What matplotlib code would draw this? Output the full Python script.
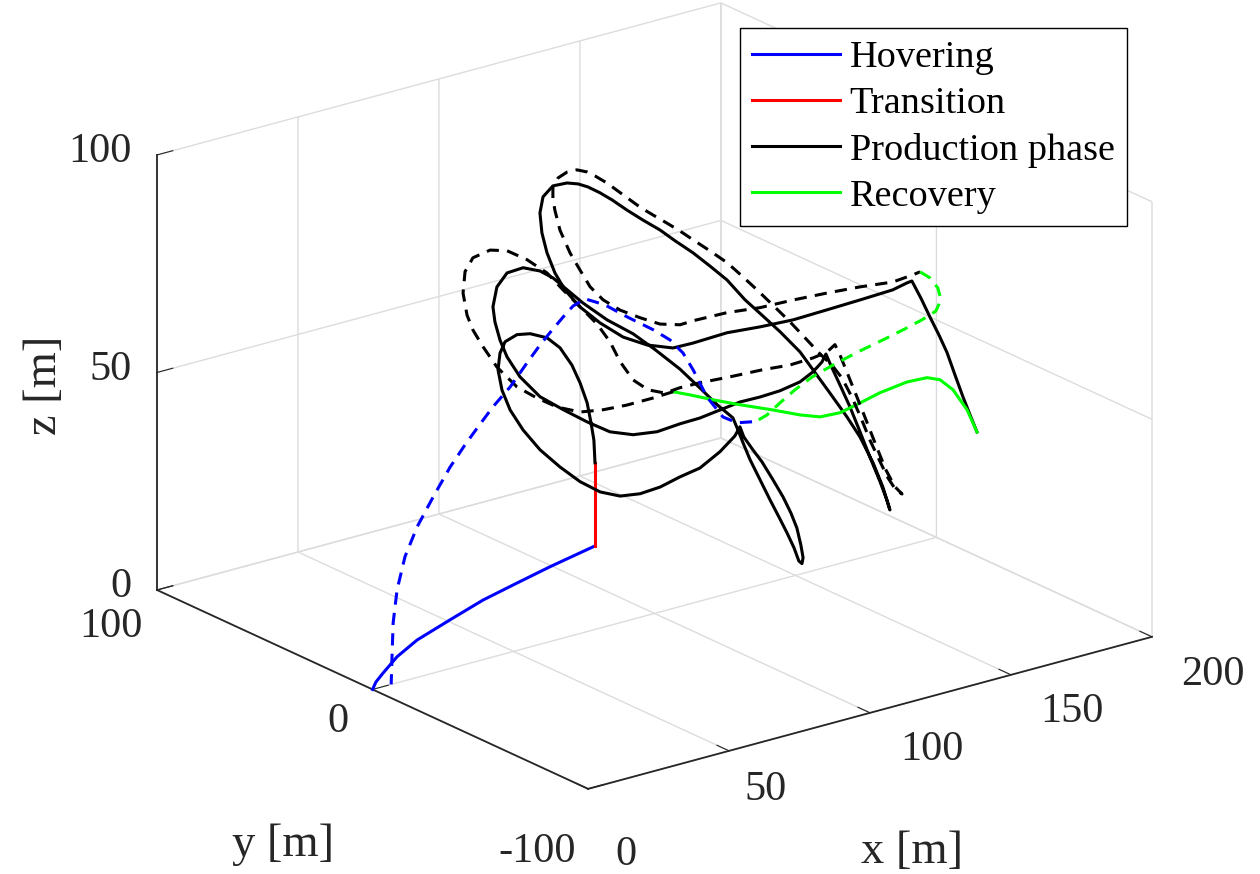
import matplotlib
matplotlib.use('Agg')
import matplotlib.pyplot as plt
from mpl_toolkits.mplot3d import proj3d

plt.rcParams.update({
    'font.family': ['Liberation Serif', 'DejaVu Serif'],
    'font.size': 30.5,
    'axes.unicode_minus': False,
    'grid.color': '#dcdcdc',
    'grid.linewidth': 1.0,
})

# ---- first pass (solid) ----
hover_x = [0, 1.2, 3.7, 8.7, 15.8, 27.5, 39.2, 51.2, 62.9, 78.9]
hover_y = [0] * 10
hover_z = [0, 1.5, 3.1, 6.0, 8.6, 11.2, 13.7, 15.5, 17.2, 19.2]

trans_x = [78.9, 78.9]
trans_y = [0, 0]
trans_z = [19.2, 38.3]

prod_pts = [
    # loop A
    (78.9, 0, 38.3), (78.5, 0, 43.6), (77.5, 0, 47.7), (76.1, 0, 52.6), (73.6, 0, 57.6),
    (70.7, 0, 62.2), (66.5, 0, 66.9), (61.9, 0, 70.0), (55.9, 0, 72.0), (51.2, 0, 72.6),
    (47.0, 0, 71.7), (45.2, 0, 69.4), (44.5, 0, 65.7), (45.9, 0, 60.8), (48.8, 0, 55.7),
    (53.4, 0, 50.3), (59.4, 0, 44.7), (66.5, 0, 39.5), (73.6, 0, 34.9), (80.7, 0, 31.3),
    (87.8, 0, 29.1), (94.9, 0, 28.4), (102.0, 0, 28.7), (109.0, 0, 29.8), (116.1, 0, 30.6),
    (123.2, 0, 33.1), (128.5, 0, 35.8), (130.3, 0, 37.6),
    # dive 1
    (131.7, 0, 35.0), (134.9, 0, 31.5), (138.1, 0, 28.2), (142.0, 0, 23.4), (145.6, 0, 18.8),
    (148.4, 0, 14.6), (150.5, 0, 10.8), (151.9, 0, 6.7), (152.7, 0, 3.6), (152.3, 0, 2.3),
    (151.2, 0, 3.1), (149.5, 0, 6.4), (147.0, 0, 10.3), (144.1, 0, 14.5), (141.0, 0, 18.9),
    (137.4, 0, 24.2), (133.9, 0, 29.4), (131.7, 0, 33.2), (129.6, 0, 37.0), (127.8, 0, 40.1),
    # loop B
    (122.2, 0, 44.1), (116.1, 0, 49.0), (109.0, 0, 54.6), (100.2, 0, 60.6), (92.4, 0, 65.6),
    (83.2, 0, 70.4), (74.6, 0, 75.8), (69.0, 0, 79.8), (64.0, 0, 83.4), (59.4, 0, 85.8),
    (53.4, 0, 87.6), (47.7, 0, 87.4), (44.1, 0, 84.8), (42.7, 0, 80.5), (43.4, 0, 76.9),
    (45.2, 0, 72.4), (47.7, 0, 68.1), (52.3, 0, 62.7), (59.4, 0, 56.9), (67.6, 0, 52.5),
    (76.1, 0, 48.2), (84.2, 0, 44.5), (92.4, 0, 42.4), (100.9, 0, 41.6), (109.0, 0, 42.0),
    (116.1, 0, 42.1), (123.2, 0, 42.7), (130.3, 0, 43.3), (137.4, 0, 43.2), (144.5, 0, 43.4),
    (151.6, 0, 44.2), (156.2, 0, 45.7), (159.4, 0, 47.4), (160.8, 0, 49.0),
    # dive 2
    (162.6, 0, 46.0), (165.8, 0, 41.0), (169.3, 0, 35.4), (172.9, 0, 29.0), (176.4, 0, 22.6),
    (180.0, 0, 16.3), (182.4, 0, 11.7), (183.5, 0, 9.2),
    (181.0, 0, 14.9), (177.5, 0, 21.1), (172.9, 0, 27.8), (168.3, 0, 33.2), (162.2, 0, 39.8),
    (156.2, 0, 46.2), (151.6, 0, 51.1), (146.8, 3, 55.9), (143.0, 6, 59.5), (139.0, 9, 63.2),
    (134.9, 12, 67.8), (131.1, 15, 71.0), (127.4, 18, 74.0), (123.3, 21, 76.8), (120.3, 24, 79.1),
    (115.8, 26, 81.7), (111.6, 28, 84.3), (107.9, 30, 86.8),
    # loop C
    (103.6, 30, 89.2), (99.3, 30, 91.3), (95.8, 30, 92.6), (91.9, 30, 93.5), (86.9, 30, 93.7),
    (83.4, 30, 91.8), (82.3, 30, 88.3), (83.0, 30, 83.6), (84.8, 30, 78.7), (87.6, 30, 73.6),
    (91.2, 30, 69.0), (96.5, 30, 64.2), (103.6, 30, 59.3), (111.8, 30, 54.6), (120.3, 30, 51.3),
    (129.5, 30, 49.0),
    (132.8, 25, 50.7), (139.5, 18, 53.5), (145.1, 10, 55.7), (151.4, 3, 57.8), (157.3, -5, 60.9),
    (164.5, -11, 63.3), (172.3, -16, 65.4), (175.0, -19, 67.2), (176.0, -20, 67.7),
    # dive 3
    (176.9, -23, 64.3), (177.8, -26, 60.5), (178.7, -29, 56.9), (179.3, -32, 53.4),
    (179.8, -35, 48.9), (181.1, -37, 44.1), (182.1, -39, 40.2), (183.8, -40, 36.2),
]

rec_pts = [
    (183.8, -40, 36.2), (181.8, -38, 41.2), (179.1, -35, 45.6), (176.8, -32, 47.6),
    (174.5, -29, 47.8), (170.4, -25, 46.6), (164.7, -20, 44.0), (159.9, -17, 41.8),
    (155.1, -14, 39.7), (150.3, -11, 38.9), (145.5, -8, 39.5), (137.4, -6, 41.6),
    (127.3, -4, 44.1), (119.2, -2, 46.2), (111.8, -1, 48.4), (106.6, 0, 49.8),
]

# ---- second pass (dashed) ----
prod2_pts = [
    (106.6, 0, 49.8), (99.5, 0, 49.6), (90.2, 0, 49.6), (81.7, 0, 50.0), (73.6, 0, 50.9),
    (65.4, 0, 53.5), (58.3, 0, 56.8), (51.2, 0, 60.6), (44.1, 0, 66.4), (39.2, 0, 71.9),
    (35.6, 0, 76.4), (33.5, 0, 80.2), (32.1, 0, 85.5), (32.8, 0, 90.3), (35.6, 0, 93.0),
    (41.7, 0, 93.7), (47.7, 0, 92.5), (54.8, 0, 89.2), (61.9, 0, 84.9), (67.6, 0, 80.0),
    (73.6, 0, 75.1), (79.6, 0, 70.1), (84.2, 0, 65.2), (87.8, 0, 60.0), (92.4, 0, 55.0),
    (97.7, 0, 51.8), (103.7, 0, 50.0),
    (109.0, 0, 50.3), (116.1, 0, 50.2), (126.8, 0, 49.7), (138.5, 0, 49.3), (148.0, 0, 48.7),
    (156.2, 0, 48.9), (161.2, 0, 49.4), (164.0, 0, 50.6),
    (165.8, 0, 47.9), (168.6, 0, 42.9), (171.8, 0, 37.2), (175.0, 0, 31.4), (178.5, 0, 25.0),
    (182.1, 0, 18.6), (185.3, 0, 14.2), (187.8, 0, 12.1),
    (185.6, 0, 13.4), (182.8, 0, 16.7), (180.0, 0, 20.9), (176.4, 0, 26.5), (173.2, 0, 32.2),
    (170.0, 0, 37.5), (166.5, 0, 42.5), (162.9, 0, 46.1), (158.7, 0, 49.4), (154.1, 0, 53.4),
    (150.4, 3, 57.5), (148.0, 6, 60.2), (143.2, 9, 64.8), (140.2, 12, 67.8), (137.2, 15, 70.7),
    (133.4, 18, 73.4), (129.7, 21, 75.9), (126.6, 23, 78.0), (123.5, 25, 79.9), (120.1, 27, 81.9),
    (117.0, 29, 83.8),
    (111.8, 30, 87.3), (106.1, 30, 91.0), (101.8, 30, 93.4), (99.0, 30, 94.8), (95.4, 30, 95.9),
    (91.9, 30, 96.0), (88.7, 30, 95.2), (86.9, 30, 93.5), (86.9, 30, 90.9), (87.6, 30, 88.0),
    (89.4, 30, 83.1), (93.0, 30, 77.2), (96.5, 30, 72.7), (100.1, 30, 68.2), (104.7, 30, 64.4),
    (110.7, 30, 61.0), (117.8, 30, 58.0), (124.9, 30, 55.3), (132.0, 30, 53.9),
    (134.3, 27, 55.1), (141.0, 20, 57.4), (146.6, 12, 59.4), (152.2, 4, 62.0), (158.1, -4, 64.4),
    (164.5, -11, 66.3), (172.3, -16, 67.2), (177.2, -19, 68.7), (178.9, -20, 69.3),
]

rec2_pts = [
    (178.9, -20, 69.3), (182.4, -20, 67.3), (185.2, -20, 64.5), (186.3, -20, 61.6),
    (184.5, -20, 59.3), (180.4, -19, 57.8), (175.1, -18, 56.4), (169.5, -16, 54.6),
    (162.9, -13, 52.3), (156.4, -10, 49.8), (150.5, -7, 47.1), (146.0, -5, 44.5),
    (142.2, -3, 41.7), (139.1, -1, 39.0), (136.3, 0, 37.9),
]

hover2_x = [134.6, 129.3, 124.3, 118.6, 113.7, 110.1, 105.5, 99.5, 90.2, 82.4, 75.4, 71.1, 67.6, 62.9,
            59.4, 54.8, 48.8, 42.7, 37.4, 32.8, 27.5, 21.5, 15.8, 11.5, 8.7, 7.3, 6.9, 6.6]
hover2_y = [0] * len(hover2_x)
hover2_z = [38.0, 38.7, 40.9, 46.5, 53.6, 58.1, 61.9, 65.3, 69.9, 74.0, 76.6, 75.7, 73.8, 71.0,
            68.8, 65.5, 61.0, 57.5, 53.8, 50.5, 46.3, 40.5, 34.6, 28.5, 21.4, 14.0, 6.3, 0.0]

x_ticks = [0, 50, 100, 150, 200]
y_ticks = [-100, 0, 100]
z_ticks = [0, 50, 100]

BLUE, RED, BLACK, GREEN = '#0000ff', '#ff0000', '#000000', '#00ff00'
TXT = '#262626'
LW = 2.2
DASH = (0, (4, 2.7))
LABEL_SIZE = 33.5   # MATLAB: labels 1.1x, legend 0.9x the axes font
LEGEND_SIZE = 27.5

fig = plt.figure(figsize=(12.6, 8.74), dpi=100)
ax = fig.add_axes([0, 0, 1, 1], projection='3d')
ax.set_proj_type('ortho')
ax.view_init(elev=20.65, azim=-127.4)
ax.set_box_aspect((1, 1, 0.655))

h1, = ax.plot(hover_x, hover_y, hover_z, color=BLUE, lw=LW, label='Hovering')
h2, = ax.plot(trans_x, trans_y, trans_z, color=RED, lw=LW, label='Transition')
h3, = ax.plot(*zip(*prod_pts), color=BLACK, lw=LW, label='Production phase')
h4, = ax.plot(*zip(*rec_pts), color=GREEN, lw=LW, label='Recovery')
ax.plot(*zip(*prod2_pts), color=BLACK, lw=LW, ls=DASH)
ax.plot(*zip(*rec2_pts), color=GREEN, lw=LW, ls=DASH)
ax.plot(hover2_x, hover2_y, hover2_z, color=BLUE, lw=LW, ls=DASH)

ax.set_xlim(0, 200)
ax.set_ylim(-100, 100)
ax.set_zlim(0, 100)
ax.set_xticks(x_ticks)
ax.set_yticks(y_ticks)
ax.set_zticks(z_ticks)
# tick labels are placed by hand below, MATLAB style
ax.set_xticklabels([])
ax.set_yticklabels([])
ax.set_zticklabels([])

for axis in (ax.xaxis, ax.yaxis, ax.zaxis):
    axis.set_pane_color((1, 1, 1, 0))
    axis.pane.set_edgecolor('#dcdcdc')
    axis.line.set_color(TXT)
    axis.line.set_linewidth(1.3)
    axis._axinfo['grid']['color'] = '#dcdcdc'
    axis._axinfo['tick']['inward_factor'] = 0.0
    axis._axinfo['tick']['outward_factor'] = 0.35
ax.tick_params(colors=TXT)

ax.legend(handles=[h1, h2, h3, h4], loc='upper right', fontsize=LEGEND_SIZE,
          bbox_to_anchor=(1127 / 1260, 1 - 28 / 874), bbox_transform=fig.transFigure,
          borderaxespad=0, fancybox=False, framealpha=1, edgecolor='black',
          handlelength=2.3, handletextpad=0.25, labelspacing=0.3, borderpad=0.32)

# fit the projected box to the reference corners (left and right bottom corners)
W, H = 1260, 874
fig.canvas.draw()


def to_px(x, y, z):
    u, v, _ = proj3d.proj_transform(x, y, z, ax.get_proj())
    return ax.transData.transform((u, v))


left = to_px(0, 100, 0)
right = to_px(200, -100, 0)
bb = ax.bbox
cx, cy = bb.x0 + bb.width / 2, bb.y0 + bb.height / 2
m = (1152 - 157) / (right[0] - left[0])
ncx = 157 - m * (left[0] - cx)
ncy = (H - 590) - m * (left[1] - cy)
w, h = m * bb.width, m * bb.height
ax.set_position([(ncx - w / 2) / W, (ncy - h / 2) / H, w / W, h / H])
fig.canvas.draw()

# tick labels: offsets in pixels (right, down) from each tick's base
x_off = [(38, 66), (36, 39), (62, 37), (61, 37), (61, 38)]
y_off = [(-51, 63), (-35, 32), (-46, 37)]
for t, (dx, dy) in zip(x_ticks, x_off):
    px, py = to_px(t, -100, 0)
    fig.text((px + dx) / W, (py - dy) / H, f'{t:g}', ha='center', va='center', color=TXT)
for t, (dx, dy) in zip(y_ticks, y_off):
    px, py = to_px(0, t, 0)
    fig.text((px + dx) / W, (py - dy) / H, f'{t:g}', ha='center', va='center', color=TXT)
for t in z_ticks:
    px, py = to_px(0, 100, t)
    fig.text((px - 25) / W, (py + 3) / H, f'{t:g}', ha='right', va='center', color=TXT)

fig.text(912 / W, 1 - 852 / H, 'x [m]', ha='center', va='center', color=TXT, fontsize=LABEL_SIZE)
fig.text(283 / W, 1 - 845 / H, 'y [m]', ha='center', va='center', color=TXT, fontsize=LABEL_SIZE)
fig.text(45 / W, 1 - 385 / H, 'z [m]', ha='center', va='center', rotation=90, color=TXT,
         fontsize=LABEL_SIZE)

fig.savefig('out.png', dpi=100)
